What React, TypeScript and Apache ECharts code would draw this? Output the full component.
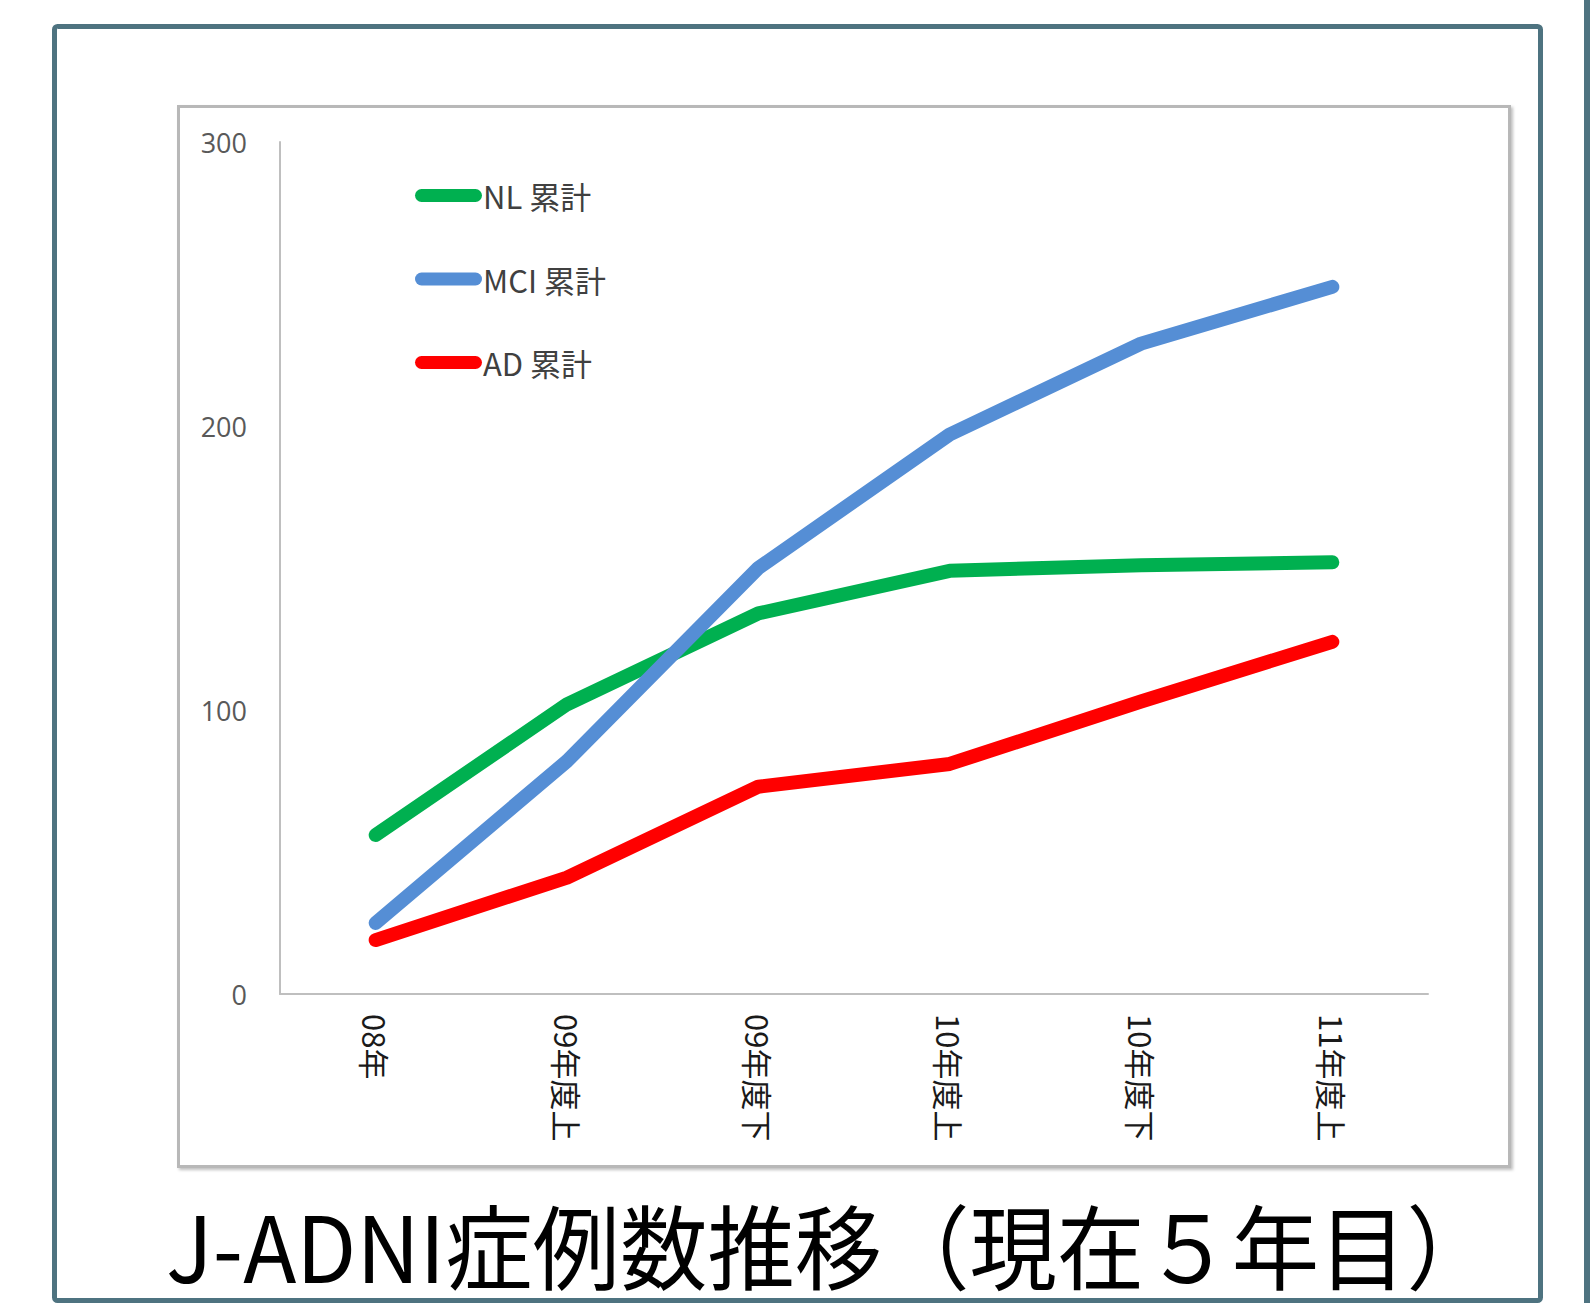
import React, { useEffect, useRef } from "react";
import * as echarts from "echarts";

const categories = ["08年", "09年度上", "09年度下", "10年度上", "10年度下", "11年度上"];
const nlValues = [56, 102, 134, 149, 151, 152];
const mciValues = [25, 82, 150, 197, 229, 249];
const adValues = [19, 41, 73, 81, 103, 124];
const seriesNames = ["NL 累計", "MCI 累計", "AD 累計"];
const seriesColors = ["#00b050", "#558ed5", "#ff0000"];
const yTicks = [0, 100, 200, 300];
const titleText = "J-ADNI症例数推移（現在５年目）";

const FRAME = "#4e7380";
const CJK = '"Noto Sans CJK JP", "Noto Sans", sans-serif';

export default function App() {
  const ref = useRef<HTMLDivElement>(null);
  useEffect(() => {
    if (!ref.current) return;
    const chart = echarts.init(ref.current, undefined, { renderer: "svg" });
    const data = [nlValues, mciValues, adValues];
    chart.setOption({
      animation: false,
      backgroundColor: "#ffffff",
      graphic: [
        {
          type: "rect",
          z: -10,
          shape: { x: 178.5, y: 106.5, width: 1331, height: 1060 },
          style: {
            fill: "#ffffff",
            stroke: "#b8b8b8",
            lineWidth: 3,
            shadowBlur: 3,
            shadowOffsetX: 2,
            shadowOffsetY: 2,
            shadowColor: "rgba(0,0,0,0.25)",
          },
        },
        {
          type: "rect",
          z: 10,
          shape: { x: 54.5, y: 26.5, width: 1486, height: 1274, r: 3 },
          style: { fill: "none", stroke: FRAME, lineWidth: 5 },
        },
        {
          type: "line",
          z: 10,
          shape: { x1: 1587, y1: 0, x2: 1587, y2: 1303 },
          style: { stroke: FRAME, lineWidth: 6 },
        },
        {
          type: "text",
          z: 10,
          x: 830,
          y: 1243,
          scaleX: 0.95,
          style: {
            text: titleText,
            fontSize: 92,
            lineHeight: 92,
            fontFamily: CJK,
            fill: "#000000",
            textAlign: "center",
            textVerticalAlign: "middle",
          },
        },
      ],
      legend: {
        orient: "vertical",
        left: 415,
        top: 180,
        padding: 0,
        itemWidth: 67,
        itemHeight: 13,
        itemGap: 52.5,
        icon: "path://M6.5,0 H60.5 A6.5,6.5 0 0 1 60.5,13 H6.5 A6.5,6.5 0 0 1 6.5,0 Z",
        textStyle: {
          fontSize: 31,
          lineHeight: 31,
          color: "#404040",
          fontFamily: CJK,
          padding: [0, 0, 0, -4],
        },
        data: seriesNames,
      },
      grid: { left: 280, top: 142, width: 1148, height: 852, containLabel: false },
      xAxis: {
        type: "category",
        data: categories,
        boundaryGap: true,
        axisLine: { show: true, lineStyle: { color: "#bfbfbf", width: 2 } },
        axisTick: { show: false },
        splitLine: { show: false },
        axisLabel: {
          rotate: -90,
          margin: 20,
          fontSize: 31,
          color: "#1a1a1a",
          fontFamily: CJK,
        },
      },
      yAxis: {
        type: "value",
        min: 0,
        max: 300,
        interval: 100,
        axisLine: { show: true, lineStyle: { color: "#bfbfbf", width: 2 } },
        axisTick: { show: false },
        splitLine: { show: false },
        axisLabel: {
          margin: 33,
          fontSize: 27,
          color: "#595959",
          fontFamily: '"Open Sans", sans-serif',
          formatter: (v: number) => (yTicks.includes(v) ? String(v) : ""),
        },
      },
      series: seriesNames.map((name, i) => ({
        name,
        type: "line",
        data: data[i],
        symbol: "none",
        showSymbol: false,
        color: seriesColors[i],
        lineStyle: { color: seriesColors[i], width: 14, cap: "round", join: "round" },
        itemStyle: { color: seriesColors[i] },
      })),
    });
    return () => chart.dispose();
  }, []);
  return (
    <div
      ref={ref}
      style={{ position: "fixed", left: 0, top: 0, width: 1596, height: 1303, background: "#fff" }}
    />
  );
}
